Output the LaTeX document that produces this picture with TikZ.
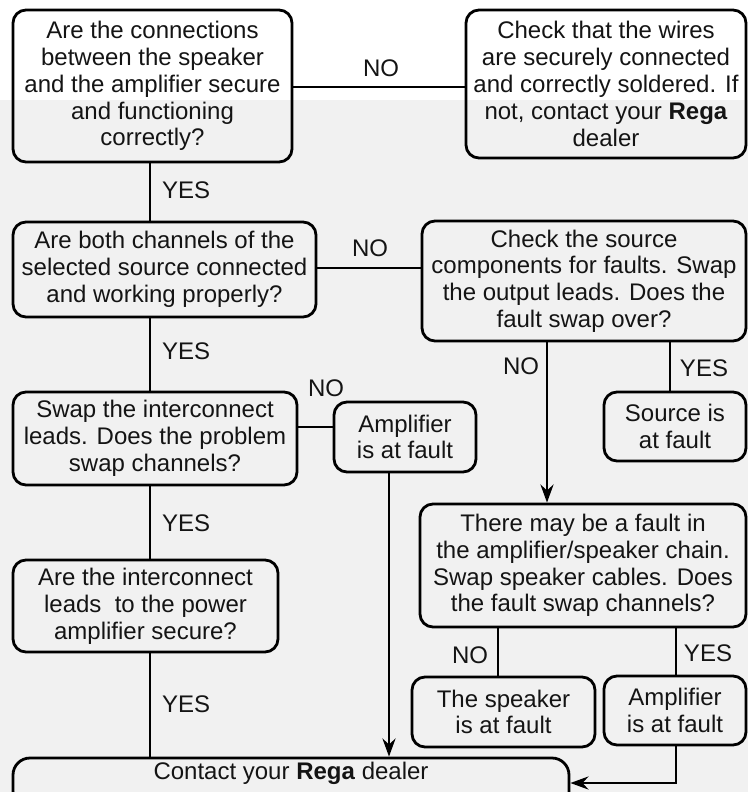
\documentclass[tikz,border=0pt]{standalone}
\usepackage{fontspec}
\setmainfont{Liberation Sans}
\usetikzlibrary{arrows.meta}
\definecolor{bggray}{RGB}{241,241,241}
\definecolor{ink}{RGB}{20,20,20}
\tikzset{
  box/.style={draw=black, line width=2.8pt, rounded corners=13pt, align=center, inner sep=0pt,
    text=ink, font=\fontsize{24}{26.8}\selectfont},
  conn/.style={draw=black, line width=2.8pt},
  arr/.style={conn, -{Stealth[length=18pt,width=13pt]}},
  lbl/.style={font=\fontsize{24}{26.8}\selectfont, inner sep=0pt, text=ink}
}
\begin{document}
\begin{tikzpicture}[x=1pt,y=-1pt]
\clip (0,0) rectangle (748,792);
\fill[white] (0,0) rectangle (748,792);
\fill[bggray] (0,100) rectangle (748,792);
% boxes
\node[box, minimum width=279pt, minimum height=152pt] (b1) at (152.5,86)
  {Are the connections\\between the speaker\\and the amplifier secure\\and functioning\\correctly?};
\node[box, minimum width=280pt, minimum height=148pt] (b2) at (606,84)
  {Check that the wires\\are securely connected\\and correctly soldered. If\\not, contact your \textbf{Rega}\\dealer};
\node[box, minimum width=303pt, minimum height=95pt] (b3) at (164.5,269.5)
  {Are both channels of the\\selected source connected\\and working properly?};
\node[box, minimum width=324pt, minimum height=120pt] (b4) at (584,281)
  {Check the source\\components for faults. Swap\\the output leads. Does the\\fault swap over?};
\node[box, minimum width=284pt, minimum height=93pt] (b5) at (155,438.5)
  {Swap the interconnect\\leads. Does the problem\\swap channels?};
\node[box, minimum width=142pt, minimum height=70pt] (b6) at (405,437)
  {Amplifier\\is at fault};
\node[box, minimum width=142pt, minimum height=69pt] (b8) at (675,426.5)
  {Source is\\at fault};
\node[box, minimum width=326pt, minimum height=123pt] (b7) at (583,565.5)
  {There may be a fault in\\the amplifier/speaker chain.\\Swap speaker cables. Does\\the fault swap channels?};
\node[box, minimum width=183pt, minimum height=70pt] (b9) at (503.5,712)
  {The speaker\\is at fault};
\node[box, minimum width=142pt, minimum height=69pt] (b10) at (675,710.5)
  {Amplifier\\is at fault};
\node[box, minimum width=265pt, minimum height=92pt] (b11) at (145.5,606)
  {Are the interconnect\\leads\ \ to the power\\amplifier secure?};
\node[box, rounded corners=17pt, minimum width=556pt, minimum height=50pt] (bf) at (291,783) {};
\node[lbl] (bft) at (291,773) {Contact your \textbf{Rega} dealer};
% guide coordinates
\coordinate (xL) at (150,0);
\coordinate (yN1) at (0,87);
\coordinate (yN2) at (0,268);
\coordinate (yN3) at (0,427);
\coordinate (xA) at (389,0);
\coordinate (xB) at (547,0);
\coordinate (xC) at (670,0);
\coordinate (xD) at (498,0);
\coordinate (xE) at (676,0);
\coordinate (yF) at (0,783);
% connectors
\draw[conn] (b1.south -| xL) -- (b3.north -| xL);
\draw[conn] (b3.south -| xL) -- (b5.north -| xL);
\draw[conn] (b5.south -| xL) -- (b11.north -| xL);
\draw[conn] (b11.south -| xL) -- (bf.north -| xL);
\draw[conn] (b1.east |- yN1) -- (b2.west |- yN1);
\draw[conn] (b3.east |- yN2) -- (b4.west |- yN2);
\draw[conn] (b5.east |- yN3) -- (b6.west |- yN3);
\draw[arr] (b6.south -| xA) -- (bf.north -| xA);
\draw[arr] (b4.south -| xB) -- (b7.north -| xB);
\draw[conn] (b4.south -| xC) -- (b8.north -| xC);
\draw[conn] (b7.south -| xD) -- (b9.north -| xD);
\draw[conn] (b7.south -| xE) -- (b10.north -| xE);
\draw[arr] (b10.south -| xE) -- (xE |- yF) -- (bf.east |- yF);
% labels
\node[lbl] (l1) at (381,68) {NO};
\node[lbl, anchor=west] (l2) at (162,190) {YES};
\node[lbl] (l3) at (370,248) {NO};
\node[lbl, anchor=west] (l4) at (162,351) {YES};
\node[lbl] (l5) at (326,388) {NO};
\node[lbl] (l6) at (521,366) {NO};
\node[lbl] (l7) at (704,368) {YES};
\node[lbl, anchor=west] (l8) at (162,523) {YES};
\node[lbl, anchor=west] (l9) at (162,704) {YES};
\node[lbl] (l10) at (470,655) {NO};
\node[lbl] (l11) at (708,653) {YES};
\end{tikzpicture}
\end{document}
